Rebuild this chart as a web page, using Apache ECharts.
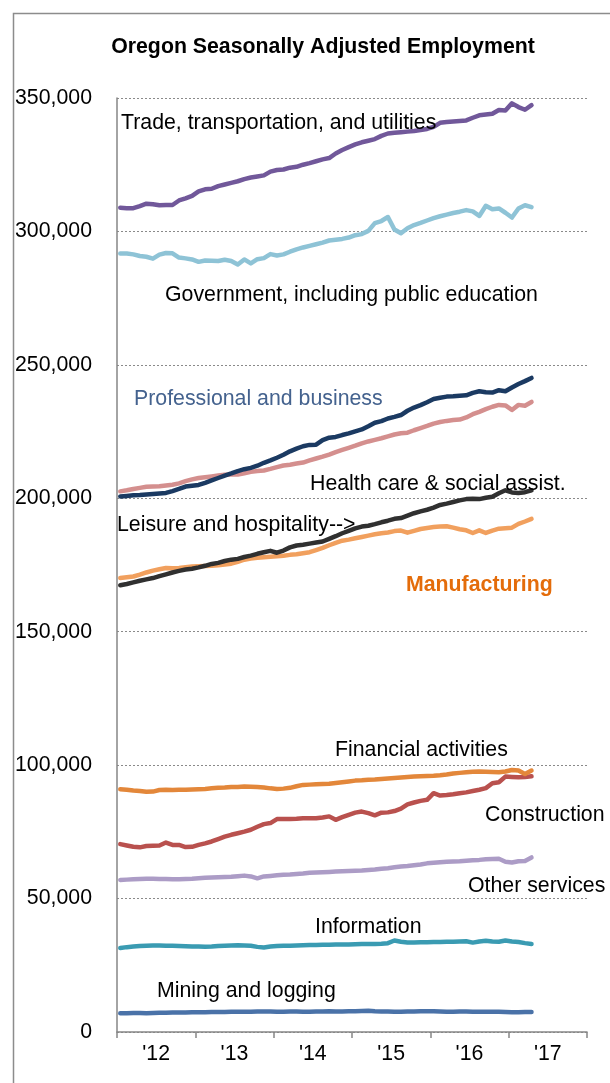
<!DOCTYPE html>
<html>
<head>
<meta charset="utf-8">
<script src="https://cdn.jsdelivr.net/npm/echarts@6/dist/echarts.min.js"></script>
<style>
html,body{margin:0;padding:0;background:#fff;}
#chart{width:610px;height:1083px;}
</style>
</head>
<body>
<div id="chart"></div>
<script>
// Year tick labels (categories for the visible axis)
const yearLabels = ["'12", "'13", "'14", "'15", "'16", "'17"];
// Monthly employment, thousands, Jan 2012 onward
const trade = [308.9,308.7,308.7,309.5,310.4,310.2,309.8,309.9,309.9,311.6,312.4,313.3,315.0,315.8,316.0,317.0,317.6,318.2,318.8,319.6,320.2,320.6,321.0,322.4,323.0,323.2,323.9,324.2,325.0,325.6,326.3,327.0,327.5,329.2,330.5,331.6,332.6,333.4,334.0,334.6,335.8,336.7,337.0,337.2,337.4,337.6,338.0,338.4,339.2,340.7,341.0,341.2,341.4,341.6,342.6,343.5,343.8,344.1,345.5,345.3,348.0,346.6,345.6,347.3];
const government = [291.7,291.7,291.4,290.8,290.5,289.8,291.3,291.9,291.8,290.2,289.9,289.5,288.6,289.1,289.0,288.9,289.4,288.9,287.6,289.5,288.0,289.6,290.0,291.5,291.0,291.4,292.4,293.3,294.0,294.6,295.2,295.8,296.6,296.9,297.2,297.7,298.6,299.0,300.2,303.1,303.9,305.4,300.7,299.3,301.2,302.4,303.2,304.1,305.0,305.7,306.3,306.9,307.4,308.0,307.5,305.8,309.6,308.3,308.6,307.0,305.2,308.6,309.8,309.1];
const professional = [200.7,200.9,201.1,201.2,201.4,201.6,201.8,202.0,202.7,203.5,204.4,204.7,205.0,205.8,206.7,207.6,208.5,209.3,210.2,210.9,211.4,212.2,213.3,214.2,215.2,216.3,217.6,218.6,219.5,220.0,220.1,221.8,222.7,223.0,223.7,224.3,225.1,225.8,227.0,228.3,228.9,229.9,230.5,231.2,232.8,234.0,234.9,236.0,237.2,237.7,238.1,238.2,238.4,238.6,239.5,240.1,239.7,239.6,240.5,240.1,241.5,242.8,243.9,245.1];
const health = [202.6,203.0,203.5,203.9,204.3,204.4,204.5,204.8,205.1,205.6,206.4,207.1,207.6,207.9,208.2,208.5,208.8,208.9,208.9,209.4,209.9,210.2,210.4,211.0,211.7,212.3,212.6,213.0,213.4,214.2,214.9,215.6,216.4,217.3,218.1,218.9,219.7,220.6,221.3,221.9,222.5,223.2,223.9,224.4,224.6,225.5,226.3,227.1,228.0,228.6,229.0,229.3,229.5,230.3,231.5,232.4,233.4,234.3,235.0,234.8,233.1,235.0,234.7,236.1];
const leisure = [167.4,167.9,168.5,169.1,169.6,170.1,170.8,171.5,172.2,172.8,173.3,173.6,174.1,174.7,175.4,175.8,176.5,177.0,177.3,178.0,178.5,179.2,179.8,180.3,179.6,180.4,181.6,182.3,182.6,183.0,183.4,183.8,184.8,185.8,186.9,187.8,188.7,189.4,189.7,190.3,191.0,191.6,192.3,192.6,193.5,194.4,195.1,195.7,196.5,197.5,198.0,198.6,199.2,199.7,199.8,199.7,200.2,200.6,201.9,203.0,202.2,202.0,202.3,203.0];
const manufacturing = [170.1,170.4,170.7,171.4,172.2,172.9,173.4,173.9,173.8,173.9,174.2,174.4,174.5,174.6,174.7,174.9,175.2,175.5,176.2,177.0,177.4,177.7,177.9,178.1,178.3,178.5,178.8,179.0,179.4,179.8,180.6,181.4,182.4,183.3,184.1,184.5,185.0,185.5,186.0,186.5,186.9,187.2,187.7,187.9,187.1,187.8,188.5,188.9,189.2,189.4,189.5,189.0,188.4,188.0,187.0,188.0,187.0,187.9,188.6,188.8,189.0,190.4,191.3,192.3];
const financial = [91.0,90.8,90.5,90.3,90.0,90.1,90.7,90.8,90.7,90.8,90.8,90.9,91.0,91.1,91.3,91.5,91.6,91.8,91.8,92.0,91.9,91.8,91.6,91.3,91.1,91.2,91.5,92.1,92.6,92.7,92.8,92.9,93.0,93.3,93.6,93.9,94.2,94.3,94.5,94.6,94.8,95.0,95.2,95.4,95.6,95.7,95.8,95.9,96.0,96.2,96.5,96.9,97.1,97.3,97.5,97.6,97.5,97.4,97.3,97.6,98.2,98.0,96.7,98.0];
const construction = [70.4,69.9,69.4,69.2,69.7,69.8,69.9,71.0,70.1,70.1,69.3,69.4,70.1,70.7,71.4,72.3,73.2,73.9,74.5,75.1,75.8,76.9,77.9,78.3,79.8,79.8,79.8,79.9,80.1,80.1,80.1,80.4,80.8,79.5,80.5,81.4,82.2,82.6,82.0,81.2,82.2,82.3,82.8,83.7,85.3,86.0,86.6,87.0,89.5,88.6,88.8,89.1,89.5,89.8,90.3,90.8,91.4,93.2,93.6,95.7,95.6,95.5,95.6,95.8];
const otherServices = [57.0,57.1,57.2,57.3,57.4,57.4,57.3,57.3,57.2,57.2,57.3,57.4,57.6,57.8,57.9,58.0,58.1,58.2,58.4,58.6,58.3,57.6,58.3,58.5,58.7,58.9,59.0,59.2,59.4,59.7,59.8,59.9,60.0,60.1,60.2,60.3,60.4,60.5,60.7,60.9,61.2,61.4,61.7,62.0,62.2,62.5,62.8,63.2,63.4,63.6,63.8,63.9,64.0,64.2,64.4,64.5,64.7,64.8,64.9,63.8,63.5,64.0,64.1,65.4];
const information = [31.5,31.8,32.0,32.2,32.3,32.4,32.4,32.3,32.3,32.2,32.1,32.0,32.0,31.9,32.0,32.2,32.3,32.4,32.5,32.4,32.3,31.9,31.7,32.0,32.2,32.3,32.3,32.4,32.5,32.6,32.6,32.7,32.7,32.8,32.8,32.8,32.9,33.0,33.0,33.0,33.1,33.3,34.3,33.8,33.5,33.5,33.6,33.6,33.7,33.7,33.8,33.8,33.9,34.0,33.5,33.9,34.2,33.9,33.8,34.3,33.9,33.7,33.3,33.0];
const mining = [7.0,7.0,7.1,7.1,7.0,7.1,7.2,7.2,7.3,7.3,7.3,7.4,7.4,7.4,7.5,7.5,7.5,7.6,7.6,7.6,7.6,7.7,7.7,7.7,7.6,7.6,7.7,7.7,7.6,7.6,7.7,7.7,7.8,7.7,7.7,7.8,7.8,7.9,8.0,7.8,7.7,7.7,7.6,7.6,7.7,7.7,7.8,7.8,7.8,7.7,7.6,7.6,7.7,7.7,7.6,7.6,7.6,7.6,7.6,7.5,7.4,7.4,7.5,7.5];

const months = [];
for (let y = 2012; y <= 2017; y++) for (let m = 1; m <= 12; m++) months.push(y + '-' + (m < 10 ? '0' + m : m));

const FONT = '"Liberation Sans", Arial, sans-serif';
const FS = 21.3;
const seriesDefs = [
  {name: 'Mining and logging', data: mining, color: '#4A72A8'},
  {name: 'Information', data: information, color: '#3A9BB2'},
  {name: 'Other services', data: otherServices, color: '#AC9CC6'},
  {name: 'Construction', data: construction, color: '#B9514E'},
  {name: 'Financial activities', data: financial, color: '#E3873A'},
  {name: 'Manufacturing', data: manufacturing, color: '#F1A05E'},
  {name: 'Leisure and hospitality', data: leisure, color: '#303030'},
  {name: 'Health care & social assist.', data: health, color: '#D48F8E'},
  {name: 'Professional and business', data: professional, color: '#1B3A62'},
  {name: 'Government', data: government, color: '#8EC3D6'},
  {name: 'Trade, transportation, and utilities', data: trade, color: '#71589A'}
];

// x = left edge of text, y = vertical centre of text
function lbl(text, x, y, opts) {
  return {
    type: 'text', left: x, top: y - 8, z: 100,
    style: Object.assign({text: text, font: FS + 'px ' + FONT, fill: '#000'}, opts || {})
  };
}

const chart = echarts.init(document.getElementById('chart'), null, {renderer: 'canvas'});
chart.setOption({
  animation: false,
  backgroundColor: '#fff',
  title: {
    text: 'Oregon Seasonally Adjusted Employment',
    left: 318, top: 32, textAlign: 'center',
    textStyle: {fontFamily: FONT, fontSize: FS, fontWeight: 'bold', color: '#000'}
  },
  grid: {left: 117, right: 23, top: 98, bottom: 51, containLabel: false},
  xAxis: [
    {type: 'category', data: months, boundaryGap: true, show: false},
    {type: 'category', data: yearLabels, boundaryGap: true, position: 'bottom',
     axisLine: {show: true, lineStyle: {color: '#868686', width: 1.5}},
     axisTick: {show: true, alignWithLabel: false, length: 6, lineStyle: {color: '#868686', width: 1.5}},
     axisLabel: {color: '#000', fontFamily: FONT, fontSize: FS, margin: 12},
     splitLine: {show: false}}
  ],
  yAxis: {
    type: 'value', min: 0, max: 350000, interval: 50000,
    axisLine: {show: true, lineStyle: {color: '#868686', width: 1.5}},
    axisTick: {show: false},
    axisLabel: {color: '#000', fontFamily: FONT, fontSize: FS, margin: 25,
      formatter: v => v.toLocaleString('en-US')},
    splitLine: {show: true, lineStyle: {color: '#8a8a8a', type: [2, 2], width: 1}}
  },
  series: seriesDefs.map(s => ({
    name: s.name, type: 'line', xAxisIndex: 0,
    data: s.data.map(v => Math.round(v * 1000)),
    showSymbol: false, symbol: 'none', smooth: false,
    lineStyle: {color: s.color, width: 4.5, cap: 'round', join: 'round'},
    itemStyle: {color: s.color}
  })),
  graphic: [
    {type: 'rect', left: 11, top: 11, z: 0, silent: true,
     shape: {width: 700, height: 1200}, style: {fill: 'none', stroke: '#8c8c8c', lineWidth: 1.5}},
    lbl('Trade, transportation, and utilities', 121, 121),
    lbl('Government, including public education', 165, 293),
    lbl('Professional and business', 134, 397, {fill: '#44628E'}),
    lbl('Health care & social assist.', 310, 482),
    lbl('Leisure and hospitality-->', 117, 523),
    lbl('Manufacturing', 406, 583, {fill: '#E46C0A', font: 'bold ' + FS + 'px ' + FONT}),
    lbl('Financial activities', 335, 748),
    lbl('Construction', 485, 813),
    lbl('Other services', 468, 884),
    lbl('Information', 315, 925),
    lbl('Mining and logging', 157, 989)
  ]
});
</script>
</body>
</html>
